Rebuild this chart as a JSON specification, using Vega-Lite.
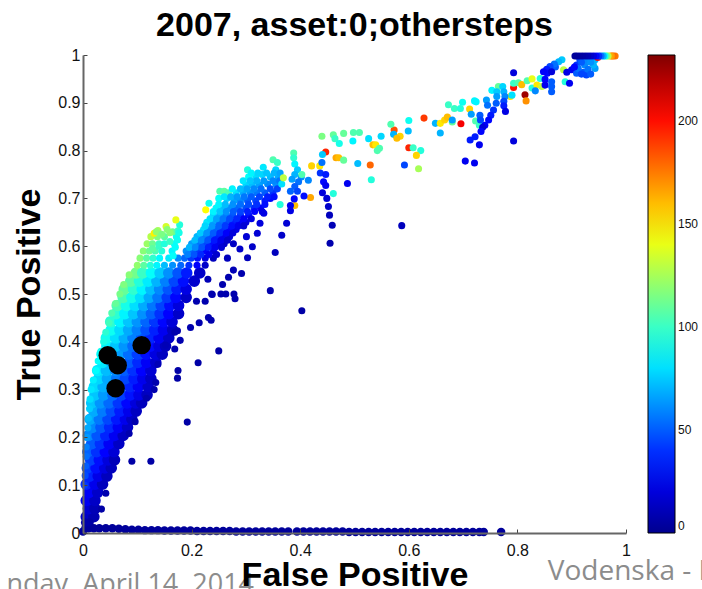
{"$schema":"https://vega.github.io/schema/vega-lite/v6.json","width":543,"height":478,"autosize":{"type":"none"},"padding":{"left":83,"top":55,"right":76,"bottom":56},"background":"white","config":{"view":{"stroke":null},"font":"Liberation Sans"},
"title":{"text":"2007, asset:0;othersteps","font":"Liberation Sans","fontSize":34,"fontWeight":"bold","color":"#000","anchor":"middle","offset":4},
"datasets":{
"core":[
{"x":0.006,"y":0.034,"v":14},{"x":0.02,"y":0.034,"v":9},{"x":0.01,"y":0.051,"v":17},{"x":0.022,"y":0.051,"v":10},{"x":0.006,"y":0.068,"v":25},{"x":0.022,"y":0.068,"v":14},{"x":0.011,"y":0.085,"v":27},{"x":0.027,"y":0.085,"v":15},
{"x":0.006,"y":0.102,"v":37},{"x":0.022,"y":0.102,"v":24},{"x":0.036,"y":0.102,"v":12},{"x":0.012,"y":0.119,"v":37},{"x":0.028,"y":0.119,"v":23},{"x":0.044,"y":0.119,"v":12},
{"x":0.008,"y":0.136,"v":44},{"x":0.024,"y":0.136,"v":32},{"x":0.04,"y":0.136,"v":21},{"x":0.052,"y":0.136,"v":12},{"x":0.014,"y":0.153,"v":44},{"x":0.03,"y":0.153,"v":32},{"x":0.046,"y":0.153,"v":20},{"x":0.058,"y":0.153,"v":11},
{"x":0.009,"y":0.17,"v":51},{"x":0.025,"y":0.17,"v":40},{"x":0.041,"y":0.17,"v":29},{"x":0.057,"y":0.17,"v":18},{"x":0.016,"y":0.187,"v":50},{"x":0.032,"y":0.187,"v":40},{"x":0.048,"y":0.187,"v":27},{"x":0.066,"y":0.187,"v":14},
{"x":0.01,"y":0.204,"v":60},{"x":0.026,"y":0.204,"v":48},{"x":0.042,"y":0.204,"v":37},{"x":0.058,"y":0.204,"v":26},{"x":0.074,"y":0.204,"v":13},
{"x":0.017,"y":0.221,"v":60},{"x":0.033,"y":0.221,"v":49},{"x":0.049,"y":0.221,"v":38},{"x":0.065,"y":0.221,"v":27},{"x":0.082,"y":0.221,"v":15},
{"x":0.013,"y":0.238,"v":68},{"x":0.03,"y":0.238,"v":56},{"x":0.046,"y":0.238,"v":45},{"x":0.062,"y":0.238,"v":34},{"x":0.078,"y":0.238,"v":24},{"x":0.09,"y":0.238,"v":14},
{"x":0.02,"y":0.255,"v":68},{"x":0.036,"y":0.255,"v":57},{"x":0.052,"y":0.255,"v":46},{"x":0.068,"y":0.255,"v":35},{"x":0.084,"y":0.255,"v":24},{"x":0.098,"y":0.255,"v":13},
{"x":0.016,"y":0.272,"v":74},{"x":0.032,"y":0.272,"v":63},{"x":0.048,"y":0.272,"v":53},{"x":0.065,"y":0.272,"v":41},{"x":0.081,"y":0.272,"v":30},{"x":0.097,"y":0.272,"v":20},{"x":0.108,"y":0.272,"v":12},
{"x":0.022,"y":0.289,"v":74},{"x":0.038,"y":0.289,"v":64},{"x":0.055,"y":0.289,"v":53},{"x":0.071,"y":0.289,"v":43},{"x":0.087,"y":0.289,"v":33},{"x":0.103,"y":0.289,"v":23},{"x":0.118,"y":0.289,"v":13},
{"x":0.021,"y":0.306,"v":79},{"x":0.037,"y":0.306,"v":69},{"x":0.054,"y":0.306,"v":57},{"x":0.07,"y":0.306,"v":47},{"x":0.086,"y":0.306,"v":37},{"x":0.102,"y":0.306,"v":27},{"x":0.12,"y":0.306,"v":15},
{"x":0.029,"y":0.323,"v":78},{"x":0.045,"y":0.323,"v":67},{"x":0.062,"y":0.323,"v":56},{"x":0.078,"y":0.323,"v":45},{"x":0.094,"y":0.323,"v":35},{"x":0.11,"y":0.323,"v":24},{"x":0.125,"y":0.323,"v":14},
{"x":0.027,"y":0.34,"v":83},{"x":0.043,"y":0.34,"v":72},{"x":0.06,"y":0.34,"v":61},{"x":0.076,"y":0.34,"v":50},{"x":0.092,"y":0.34,"v":40},{"x":0.108,"y":0.34,"v":29},{"x":0.125,"y":0.34,"v":18},
{"x":0.036,"y":0.357,"v":82},{"x":0.052,"y":0.357,"v":71},{"x":0.068,"y":0.357,"v":60},{"x":0.085,"y":0.357,"v":49},{"x":0.101,"y":0.357,"v":38},{"x":0.117,"y":0.357,"v":27},{"x":0.134,"y":0.357,"v":16},
{"x":0.035,"y":0.374,"v":87},{"x":0.052,"y":0.374,"v":75},{"x":0.068,"y":0.374,"v":65},{"x":0.084,"y":0.374,"v":54},{"x":0.1,"y":0.374,"v":43},{"x":0.116,"y":0.374,"v":32},{"x":0.133,"y":0.374,"v":21},{"x":0.146,"y":0.374,"v":13},
{"x":0.044,"y":0.391,"v":85},{"x":0.06,"y":0.391,"v":74},{"x":0.076,"y":0.391,"v":63},{"x":0.092,"y":0.391,"v":53},{"x":0.108,"y":0.391,"v":42},{"x":0.124,"y":0.391,"v":31},{"x":0.14,"y":0.391,"v":21},{"x":0.152,"y":0.391,"v":12},
{"x":0.043,"y":0.408,"v":91},{"x":0.06,"y":0.408,"v":80},{"x":0.076,"y":0.408,"v":69},{"x":0.092,"y":0.408,"v":58},{"x":0.108,"y":0.408,"v":48},{"x":0.124,"y":0.408,"v":37},{"x":0.14,"y":0.408,"v":26},{"x":0.158,"y":0.408,"v":14},
{"x":0.052,"y":0.425,"v":90},{"x":0.068,"y":0.425,"v":79},{"x":0.084,"y":0.425,"v":68},{"x":0.1,"y":0.425,"v":58},{"x":0.116,"y":0.425,"v":47},{"x":0.132,"y":0.425,"v":36},{"x":0.148,"y":0.425,"v":25},{"x":0.165,"y":0.425,"v":13},
{"x":0.051,"y":0.442,"v":97},{"x":0.068,"y":0.442,"v":85},{"x":0.084,"y":0.442,"v":74},{"x":0.1,"y":0.442,"v":63},{"x":0.116,"y":0.442,"v":52},{"x":0.132,"y":0.442,"v":41},{"x":0.148,"y":0.442,"v":30},{"x":0.164,"y":0.442,"v":19},
{"x":0.061,"y":0.459,"v":97},{"x":0.077,"y":0.459,"v":85},{"x":0.093,"y":0.459,"v":74},{"x":0.11,"y":0.459,"v":62},{"x":0.126,"y":0.459,"v":51},{"x":0.142,"y":0.459,"v":40},{"x":0.158,"y":0.459,"v":29},{"x":0.176,"y":0.459,"v":15},
{"x":0.063,"y":0.476,"v":104},{"x":0.08,"y":0.476,"v":92},{"x":0.096,"y":0.476,"v":80},{"x":0.112,"y":0.476,"v":68},{"x":0.128,"y":0.476,"v":56},{"x":0.144,"y":0.476,"v":44},{"x":0.16,"y":0.476,"v":32},{"x":0.176,"y":0.476,"v":20},
{"x":0.074,"y":0.493,"v":104},{"x":0.09,"y":0.493,"v":92},{"x":0.106,"y":0.493,"v":80},{"x":0.122,"y":0.493,"v":68},{"x":0.138,"y":0.493,"v":56},{"x":0.155,"y":0.493,"v":42},{"x":0.171,"y":0.493,"v":30},{"x":0.19,"y":0.493,"v":15},
{"x":0.076,"y":0.51,"v":110},{"x":0.093,"y":0.51,"v":98},{"x":0.109,"y":0.51,"v":85},{"x":0.125,"y":0.51,"v":72},{"x":0.141,"y":0.51,"v":60},{"x":0.157,"y":0.51,"v":48},{"x":0.173,"y":0.51,"v":35},{"x":0.19,"y":0.51,"v":22},
{"x":0.088,"y":0.527,"v":108},{"x":0.104,"y":0.527,"v":95},{"x":0.12,"y":0.527,"v":83},{"x":0.136,"y":0.527,"v":70},{"x":0.152,"y":0.527,"v":58},{"x":0.168,"y":0.527,"v":45},{"x":0.185,"y":0.527,"v":32},{"x":0.205,"y":0.527,"v":16},
{"x":0.098,"y":0.544,"v":113},{"x":0.11,"y":0.544,"v":100},{"x":0.126,"y":0.544,"v":88},{"x":0.142,"y":0.544,"v":75},{"x":0.158,"y":0.544,"v":62},{"x":0.175,"y":0.544,"v":48},{"x":0.191,"y":0.544,"v":35},{"x":0.215,"y":0.544,"v":15}
],
"strip":[
{"x":0,"y":0.003,"v":3},{"x":0.005,"y":0.012,"v":4},{"x":0.01,"y":0.01,"v":4},{"x":0.012,"y":0.022,"v":6},{"x":0.004,"y":0.022,"v":7},{"x":0.02,"y":0.01,"v":3},{"x":0.03,"y":0.01,"v":3},{"x":0.042,"y":0.01,"v":3},{"x":0.054,"y":0.01,"v":3},{"x":0.066,"y":0.009,"v":3},{"x":0.078,"y":0.008,"v":3},{"x":0.09,"y":0.007,"v":3},{"x":0.102,"y":0.007,"v":3},{"x":0.114,"y":0.006,"v":3},{"x":0.126,"y":0.006,"v":3},{"x":0.138,"y":0.006,"v":3},{"x":0.15,"y":0.005,"v":3},{"x":0.162,"y":0.005,"v":3},{"x":0.174,"y":0.005,"v":3},{"x":0.186,"y":0.005,"v":3},{"x":0.198,"y":0.005,"v":3},{"x":0.21,"y":0.004,"v":3},{"x":0.222,"y":0.004,"v":3},{"x":0.234,"y":0.004,"v":3},{"x":0.246,"y":0.004,"v":3},{"x":0.258,"y":0.004,"v":3},{"x":0.27,"y":0.004,"v":3},{"x":0.282,"y":0.003,"v":3},{"x":0.294,"y":0.003,"v":3},{"x":0.306,"y":0.003,"v":3},{"x":0.318,"y":0.003,"v":3},{"x":0.33,"y":0.003,"v":3},{"x":0.342,"y":0.003,"v":3},{"x":0.354,"y":0.003,"v":3},{"x":0.366,"y":0.003,"v":3},{"x":0.378,"y":0.003,"v":3},{"x":0.394,"y":0.003,"v":3},{"x":0.406,"y":0.003,"v":3},{"x":0.418,"y":0.003,"v":3},{"x":0.43,"y":0.003,"v":3},{"x":0.442,"y":0.003,"v":3},{"x":0.454,"y":0.003,"v":3},{"x":0.466,"y":0.003,"v":3},{"x":0.478,"y":0.003,"v":3},{"x":0.49,"y":0.002,"v":3},{"x":0.502,"y":0.002,"v":3},{"x":0.514,"y":0.002,"v":3},{"x":0.526,"y":0.002,"v":3},{"x":0.538,"y":0.002,"v":3},{"x":0.55,"y":0.002,"v":3},{"x":0.562,"y":0.002,"v":3},{"x":0.574,"y":0.002,"v":3},{"x":0.586,"y":0.002,"v":3},{"x":0.598,"y":0.002,"v":3},{"x":0.61,"y":0.002,"v":3},{"x":0.622,"y":0.002,"v":3},{"x":0.634,"y":0.002,"v":3},{"x":0.646,"y":0.002,"v":3},{"x":0.658,"y":0.002,"v":3},{"x":0.67,"y":0.002,"v":3},{"x":0.682,"y":0.002,"v":3},{"x":0.694,"y":0.002,"v":3},{"x":0.706,"y":0.002,"v":3},{"x":0.718,"y":0.002,"v":3},{"x":0.73,"y":0.002,"v":3},{"x":0.738,"y":0.002,"v":3},{"x":0.77,"y":0.002,"v":3}
],
"dots":[
{"x":0.003,"y":0.1,"v":42},{"x":0.004,"y":0.12,"v":46},{"x":0.005,"y":0.14,"v":50},{"x":0.006,"y":0.16,"v":54},{"x":0.006,"y":0.18,"v":58},{"x":0.007,"y":0.2,"v":64},{"x":0.009,"y":0.22,"v":68},{"x":0.01,"y":0.24,"v":72},{"x":0.012,"y":0.26,"v":76},{"x":0.013,"y":0.28,"v":80},{"x":0.015,"y":0.3,"v":82},{"x":0.019,"y":0.32,"v":84},{"x":0.024,"y":0.34,"v":87},{"x":0.028,"y":0.36,"v":88},{"x":0.033,"y":0.38,"v":90},{"x":0.038,"y":0.4,"v":93},{"x":0.042,"y":0.42,"v":97},{"x":0.048,"y":0.44,"v":102},{"x":0.053,"y":0.46,"v":105},{"x":0.06,"y":0.48,"v":110},{"x":0.068,"y":0.5,"v":114},{"x":0.075,"y":0.52,"v":116},{"x":0.085,"y":0.54,"v":118},
{"x":0.1,"y":0.56,"v":120},{"x":0.112,"y":0.56,"v":108},{"x":0.124,"y":0.56,"v":96},{"x":0.136,"y":0.56,"v":85},{"x":0.15,"y":0.56,"v":72},{"x":0.165,"y":0.56,"v":62},{"x":0.18,"y":0.56,"v":52},{"x":0.195,"y":0.56,"v":40},{"x":0.21,"y":0.56,"v":28},{"x":0.225,"y":0.56,"v":15},
{"x":0.105,"y":0.575,"v":118},{"x":0.117,"y":0.575,"v":108},{"x":0.129,"y":0.575,"v":98},{"x":0.141,"y":0.575,"v":86},{"x":0.158,"y":0.575,"v":82},{"x":0.175,"y":0.575,"v":60},{"x":0.187,"y":0.575,"v":52},{"x":0.199,"y":0.575,"v":42},{"x":0.211,"y":0.575,"v":32},{"x":0.225,"y":0.575,"v":22},{"x":0.24,"y":0.575,"v":12},
{"x":0.111,"y":0.59,"v":118},{"x":0.122,"y":0.59,"v":112},{"x":0.133,"y":0.59,"v":104},{"x":0.145,"y":0.59,"v":95},{"x":0.164,"y":0.59,"v":85},{"x":0.19,"y":0.59,"v":62},{"x":0.202,"y":0.59,"v":52},{"x":0.214,"y":0.59,"v":42},{"x":0.226,"y":0.59,"v":30},{"x":0.24,"y":0.59,"v":20},
{"x":0.118,"y":0.605,"v":122},{"x":0.128,"y":0.605,"v":112},{"x":0.14,"y":0.605,"v":100},{"x":0.168,"y":0.605,"v":88},{"x":0.2,"y":0.605,"v":65},{"x":0.212,"y":0.605,"v":55},{"x":0.224,"y":0.605,"v":45},{"x":0.236,"y":0.605,"v":32},{"x":0.248,"y":0.605,"v":24},{"x":0.26,"y":0.605,"v":15},
{"x":0.125,"y":0.62,"v":128},{"x":0.137,"y":0.62,"v":116},{"x":0.15,"y":0.62,"v":108},{"x":0.172,"y":0.62,"v":90},{"x":0.21,"y":0.62,"v":70},{"x":0.222,"y":0.62,"v":58},{"x":0.234,"y":0.62,"v":48},{"x":0.246,"y":0.62,"v":36},{"x":0.258,"y":0.62,"v":25},{"x":0.27,"y":0.62,"v":18},
{"x":0.131,"y":0.627,"v":148},{"x":0.138,"y":0.633,"v":125},{"x":0.153,"y":0.641,"v":135},{"x":0.165,"y":0.63,"v":112},{"x":0.175,"y":0.632,"v":100},{"x":0.178,"y":0.645,"v":95},{"x":0.16,"y":0.628,"v":118},{"x":0.171,"y":0.655,"v":140},{"x":0.226,"y":0.676,"v":145},
{"x":0.128,"y":0.595,"v":108},{"x":0.14,"y":0.6,"v":100},{"x":0.15,"y":0.605,"v":95},{"x":0.16,"y":0.61,"v":100},{"x":0.135,"y":0.63,"v":120},{"x":0.145,"y":0.625,"v":115},{"x":0.155,"y":0.635,"v":118},{"x":0.166,"y":0.58,"v":88},{"x":0.17,"y":0.598,"v":88},{"x":0.174,"y":0.613,"v":90},{"x":0.177,"y":0.628,"v":92},
{"x":0.222,"y":0.635,"v":80},{"x":0.234,"y":0.635,"v":62},{"x":0.246,"y":0.635,"v":52},{"x":0.258,"y":0.635,"v":40},{"x":0.27,"y":0.635,"v":30},{"x":0.282,"y":0.635,"v":22},
{"x":0.228,"y":0.65,"v":82},{"x":0.24,"y":0.65,"v":68},{"x":0.252,"y":0.65,"v":55},{"x":0.264,"y":0.65,"v":46},{"x":0.276,"y":0.65,"v":36},{"x":0.288,"y":0.65,"v":28},{"x":0.3,"y":0.65,"v":20},
{"x":0.24,"y":0.665,"v":78},{"x":0.252,"y":0.665,"v":68},{"x":0.264,"y":0.665,"v":58},{"x":0.276,"y":0.665,"v":48},{"x":0.29,"y":0.665,"v":40},{"x":0.305,"y":0.665,"v":32},
{"x":0.232,"y":0.69,"v":90},{"x":0.245,"y":0.68,"v":85},{"x":0.258,"y":0.68,"v":72},{"x":0.27,"y":0.68,"v":62},{"x":0.283,"y":0.68,"v":52},{"x":0.3,"y":0.68,"v":46},{"x":0.315,"y":0.68,"v":38},{"x":0.327,"y":0.68,"v":28},
{"x":0.25,"y":0.7,"v":88},{"x":0.265,"y":0.7,"v":76},{"x":0.278,"y":0.695,"v":66},{"x":0.29,"y":0.695,"v":60},{"x":0.303,"y":0.695,"v":50},{"x":0.318,"y":0.695,"v":44},{"x":0.335,"y":0.695,"v":35},{"x":0.345,"y":0.7,"v":30},
{"x":0.252,"y":0.715,"v":105},{"x":0.26,"y":0.715,"v":108},{"x":0.268,"y":0.712,"v":104},{"x":0.282,"y":0.712,"v":80},{"x":0.295,"y":0.712,"v":68},{"x":0.308,"y":0.712,"v":62},{"x":0.32,"y":0.712,"v":56},{"x":0.335,"y":0.712,"v":50},{"x":0.35,"y":0.712,"v":40},
{"x":0.3,"y":0.728,"v":78},{"x":0.312,"y":0.728,"v":72},{"x":0.325,"y":0.728,"v":66},{"x":0.34,"y":0.73,"v":60},{"x":0.355,"y":0.73,"v":62},{"x":0.305,"y":0.745,"v":88},{"x":0.318,"y":0.745,"v":80},{"x":0.33,"y":0.75,"v":78},{"x":0.345,"y":0.745,"v":72},{"x":0.36,"y":0.745,"v":68},{"x":0.303,"y":0.76,"v":95},{"x":0.332,"y":0.765,"v":82},{"x":0.355,"y":0.76,"v":78},{"x":0.35,"y":0.781,"v":105},{"x":0.358,"y":0.775,"v":100},
{"x":0.193,"y":0.5825,"v":58},{"x":0.205,"y":0.5825,"v":48},{"x":0.217,"y":0.5825,"v":38},{"x":0.232,"y":0.5825,"v":26},{"x":0.246,"y":0.5825,"v":16},
{"x":0.196,"y":0.5975,"v":70},{"x":0.207,"y":0.5975,"v":60},{"x":0.219,"y":0.5975,"v":48},{"x":0.231,"y":0.5975,"v":36},{"x":0.243,"y":0.5975,"v":26},{"x":0.255,"y":0.5975,"v":18},
{"x":0.206,"y":0.6125,"v":72},{"x":0.218,"y":0.6125,"v":60},{"x":0.23,"y":0.6125,"v":48},{"x":0.242,"y":0.6125,"v":34},{"x":0.254,"y":0.6125,"v":24},{"x":0.266,"y":0.6125,"v":16},
{"x":0.216,"y":0.6275,"v":75},{"x":0.228,"y":0.6275,"v":62},{"x":0.24,"y":0.6275,"v":50},{"x":0.252,"y":0.6275,"v":38},{"x":0.264,"y":0.6275,"v":28},{"x":0.276,"y":0.6275,"v":20},
{"x":0.225,"y":0.6425,"v":78},{"x":0.238,"y":0.6425,"v":64},{"x":0.25,"y":0.6425,"v":52},{"x":0.262,"y":0.6425,"v":42},{"x":0.274,"y":0.6425,"v":32},{"x":0.286,"y":0.6425,"v":25},{"x":0.296,"y":0.6425,"v":18},
{"x":0.234,"y":0.6575,"v":80},{"x":0.246,"y":0.6575,"v":66},{"x":0.258,"y":0.6575,"v":56},{"x":0.27,"y":0.6575,"v":46},{"x":0.283,"y":0.6575,"v":38},{"x":0.296,"y":0.6575,"v":28},{"x":0.31,"y":0.6575,"v":22},
{"x":0.24,"y":0.6725,"v":85},{"x":0.252,"y":0.6725,"v":74},{"x":0.264,"y":0.6725,"v":62},{"x":0.277,"y":0.6725,"v":50},{"x":0.29,"y":0.6725,"v":44},{"x":0.303,"y":0.6725,"v":36},{"x":0.316,"y":0.6725,"v":30},{"x":0.33,"y":0.6725,"v":22},
{"x":0.25,"y":0.6875,"v":85},{"x":0.262,"y":0.6875,"v":72},{"x":0.276,"y":0.6875,"v":62},{"x":0.29,"y":0.6875,"v":54},{"x":0.305,"y":0.6875,"v":46},{"x":0.32,"y":0.6875,"v":40},{"x":0.335,"y":0.6875,"v":32},
{"x":0.26,"y":0.7035,"v":82},{"x":0.272,"y":0.7035,"v":70},{"x":0.284,"y":0.7035,"v":64},{"x":0.297,"y":0.7035,"v":56},{"x":0.31,"y":0.7035,"v":50},{"x":0.325,"y":0.7035,"v":44},{"x":0.34,"y":0.7035,"v":36},{"x":0.352,"y":0.7035,"v":32},
{"x":0.275,"y":0.72,"v":85},{"x":0.29,"y":0.72,"v":72},{"x":0.302,"y":0.72,"v":66},{"x":0.315,"y":0.72,"v":60},{"x":0.328,"y":0.72,"v":54},{"x":0.345,"y":0.72,"v":46},{"x":0.358,"y":0.72,"v":44},
{"x":0.295,"y":0.737,"v":82},{"x":0.308,"y":0.737,"v":75},{"x":0.32,"y":0.737,"v":70},{"x":0.333,"y":0.737,"v":64},{"x":0.35,"y":0.737,"v":60},{"x":0.362,"y":0.737,"v":56},
{"x":0.31,"y":0.753,"v":85},{"x":0.322,"y":0.753,"v":78},{"x":0.338,"y":0.753,"v":74},{"x":0.352,"y":0.753,"v":70},{"x":0.363,"y":0.753,"v":66},
{"x":0.388,"y":0.795,"v":105},{"x":0.388,"y":0.785,"v":98},{"x":0.39,"y":0.772,"v":85},{"x":0.395,"y":0.76,"v":75},{"x":0.39,"y":0.75,"v":70},{"x":0.402,"y":0.745,"v":62},{"x":0.385,"y":0.74,"v":65},{"x":0.397,"y":0.735,"v":55},{"x":0.39,"y":0.725,"v":50},{"x":0.382,"y":0.715,"v":52},{"x":0.395,"y":0.715,"v":45},
{"x":0.419,"y":0.702,"v":165},{"x":0.39,"y":0.685,"v":160},{"x":0.421,"y":0.768,"v":155},{"x":0.436,"y":0.768,"v":150},{"x":0.447,"y":0.797,"v":195},{"x":0.44,"y":0.83,"v":115},{"x":0.461,"y":0.833,"v":110},{"x":0.48,"y":0.836,"v":110},{"x":0.498,"y":0.838,"v":105},{"x":0.509,"y":0.838,"v":105},{"x":0.464,"y":0.825,"v":100},{"x":0.472,"y":0.815,"v":92},{"x":0.497,"y":0.82,"v":85},{"x":0.466,"y":0.785,"v":165},{"x":0.471,"y":0.785,"v":160},{"x":0.48,"y":0.78,"v":110},{"x":0.506,"y":0.773,"v":72},{"x":0.461,"y":0.71,"v":95},{"x":0.363,"y":0.687,"v":95},{"x":0.366,"y":0.73,"v":80},{"x":0.403,"y":0.75,"v":105},{"x":0.369,"y":0.743,"v":130},{"x":0.415,"y":0.738,"v":60},
{"x":0.526,"y":0.825,"v":80},{"x":0.549,"y":0.83,"v":78},{"x":0.573,"y":0.843,"v":185},{"x":0.572,"y":0.834,"v":70},{"x":0.584,"y":0.83,"v":155},{"x":0.578,"y":0.826,"v":160},{"x":0.567,"y":0.855,"v":105},{"x":0.6,"y":0.863,"v":90},{"x":0.628,"y":0.868,"v":190},{"x":0.599,"y":0.841,"v":72},{"x":0.658,"y":0.837,"v":70},{"x":0.649,"y":0.857,"v":70},{"x":0.658,"y":0.857,"v":150},{"x":0.666,"y":0.864,"v":155},{"x":0.671,"y":0.87,"v":160},{"x":0.68,"y":0.86,"v":110},{"x":0.68,"y":0.864,"v":65},{"x":0.696,"y":0.856,"v":205},{"x":0.673,"y":0.896,"v":100},{"x":0.684,"y":0.888,"v":100},{"x":0.695,"y":0.888,"v":95},{"x":0.699,"y":0.901,"v":90},{"x":0.721,"y":0.904,"v":85},{"x":0.724,"y":0.902,"v":85},{"x":0.712,"y":0.887,"v":155},{"x":0.715,"y":0.876,"v":65},{"x":0.723,"y":0.862,"v":105},{"x":0.73,"y":0.853,"v":100},{"x":0.534,"y":0.812,"v":160},{"x":0.539,"y":0.812,"v":150},{"x":0.546,"y":0.805,"v":105},{"x":0.542,"y":0.8,"v":105},{"x":0.6,"y":0.806,"v":195},{"x":0.608,"y":0.806,"v":100},{"x":0.622,"y":0.8,"v":95},{"x":0.614,"y":0.79,"v":155},{"x":0.618,"y":0.762,"v":125},{"x":0.592,"y":0.77,"v":45},{"x":0.529,"y":0.77,"v":180},{"x":0.531,"y":0.739,"v":95},
{"x":0.814,"y":0.917,"v":225},{"x":0.816,"y":0.904,"v":170},{"x":0.793,"y":0.932,"v":200},{"x":0.787,"y":0.913,"v":150},{"x":0.765,"y":0.934,"v":110},{"x":0.793,"y":0.941,"v":100},{"x":0.802,"y":0.942,"v":105},{"x":0.808,"y":0.938,"v":160},{"x":0.818,"y":0.946,"v":105},{"x":0.827,"y":0.95,"v":140},{"x":0.827,"y":0.931,"v":95},{"x":0.836,"y":0.937,"v":150},{"x":0.842,"y":0.951,"v":95},{"x":0.845,"y":0.934,"v":130},{"x":0.79,"y":0.916,"v":80},{"x":0.833,"y":0.925,"v":60},{"x":0.885,"y":0.969,"v":130},{"x":0.888,"y":0.944,"v":95},
{"x":0.753,"y":0.926,"v":85},{"x":0.762,"y":0.923,"v":75},{"x":0.762,"y":0.913,"v":65},{"x":0.761,"y":0.899,"v":50},{"x":0.756,"y":0.885,"v":40},{"x":0.751,"y":0.874,"v":35},{"x":0.747,"y":0.864,"v":30},{"x":0.74,"y":0.853,"v":28},{"x":0.743,"y":0.906,"v":65},{"x":0.745,"y":0.895,"v":55},{"x":0.731,"y":0.874,"v":50},{"x":0.732,"y":0.864,"v":45},{"x":0.736,"y":0.849,"v":20},
{"x":0.773,"y":0.934,"v":78},{"x":0.775,"y":0.923,"v":70},{"x":0.777,"y":0.913,"v":60},{"x":0.775,"y":0.903,"v":45},{"x":0.775,"y":0.894,"v":35},{"x":0.778,"y":0.882,"v":22},
{"x":0.882,"y":0.99,"v":75},{"x":0.876,"y":0.986,"v":70},{"x":0.87,"y":0.975,"v":50},{"x":0.868,"y":0.981,"v":55},{"x":0.86,"y":0.976,"v":45},{"x":0.854,"y":0.97,"v":35},{"x":0.855,"y":0.962,"v":30},{"x":0.848,"y":0.965,"v":28},{"x":0.863,"y":0.965,"v":20},{"x":0.851,"y":0.949,"v":30},{"x":0.851,"y":0.937,"v":25},{"x":0.863,"y":0.944,"v":50},{"x":0.863,"y":0.934,"v":50},{"x":0.863,"y":0.923,"v":50},
{"x":0.896,"y":0.941,"v":25},{"x":0.891,"y":0.964,"v":22},{"x":0.9,"y":0.969,"v":25},{"x":0.909,"y":0.979,"v":40},{"x":0.915,"y":0.99,"v":45},{"x":0.921,"y":0.964,"v":50},{"x":0.909,"y":0.962,"v":50},{"x":0.912,"y":0.972,"v":55},{"x":0.927,"y":0.99,"v":60},{"x":0.924,"y":0.979,"v":60},{"x":0.927,"y":0.958,"v":45},{"x":0.943,"y":0.99,"v":70},{"x":0.943,"y":0.972,"v":65},{"x":0.94,"y":0.979,"v":70},{"x":0.948,"y":0.995,"v":200},{"x":0.905,"y":0.975,"v":30},{"x":0.918,"y":0.985,"v":50},{"x":0.935,"y":0.985,"v":62},{"x":0.93,"y":0.97,"v":55},{"x":0.918,"y":0.96,"v":45},{"x":0.935,"y":0.96,"v":50},
{"x":0.98,"y":0.998,"v":175},{"x":0.976,"y":0.998,"v":180},{"x":0.974,"y":0.998,"v":170},{"x":0.971,"y":0.998,"v":165},{"x":0.967,"y":0.998,"v":130},{"x":0.964,"y":0.998,"v":110},{"x":0.961,"y":0.998,"v":90},{"x":0.958,"y":0.998,"v":70},{"x":0.954,"y":0.998,"v":55},{"x":0.95,"y":0.998,"v":40},{"x":0.945,"y":0.998,"v":30},{"x":0.94,"y":0.998,"v":20},{"x":0.935,"y":0.998,"v":15},{"x":0.93,"y":0.998,"v":10},{"x":0.925,"y":0.998,"v":8},{"x":0.92,"y":0.998,"v":6},{"x":0.915,"y":0.998,"v":5},{"x":0.91,"y":0.998,"v":4},{"x":0.906,"y":0.998,"v":3},
{"x":0.793,"y":0.963,"v":20},{"x":0.793,"y":0.82,"v":20},{"x":0.733,"y":0.84,"v":30},{"x":0.722,"y":0.829,"v":35},{"x":0.713,"y":0.822,"v":35},{"x":0.73,"y":0.812,"v":25},{"x":0.704,"y":0.778,"v":25},{"x":0.721,"y":0.774,"v":25},{"x":0.587,"y":0.643,"v":12},
{"x":0.441,"y":0.792,"v":75},{"x":0.44,"y":0.775,"v":55},{"x":0.437,"y":0.753,"v":40},{"x":0.447,"y":0.75,"v":35},{"x":0.443,"y":0.735,"v":30},{"x":0.447,"y":0.727,"v":25},{"x":0.441,"y":0.712,"v":20},{"x":0.449,"y":0.7,"v":18},{"x":0.452,"y":0.683,"v":15},{"x":0.454,"y":0.665,"v":12},{"x":0.459,"y":0.644,"v":10},{"x":0.455,"y":0.606,"v":8},{"x":0.487,"y":0.731,"v":25},
{"x":0.354,"y":0.587,"v":12},{"x":0.366,"y":0.623,"v":15},{"x":0.375,"y":0.648,"v":18},{"x":0.382,"y":0.674,"v":22},{"x":0.382,"y":0.685,"v":25},{"x":0.389,"y":0.699,"v":30},{"x":0.407,"y":0.705,"v":32},
{"x":0.303,"y":0.576,"v":12},{"x":0.312,"y":0.599,"v":15},{"x":0.321,"y":0.627,"v":18},{"x":0.333,"y":0.669,"v":22},{"x":0.292,"y":0.543,"v":8},{"x":0.268,"y":0.535,"v":8},{"x":0.257,"y":0.52,"v":8},{"x":0.23,"y":0.531,"v":10},{"x":0.237,"y":0.5,"v":8},{"x":0.277,"y":0.55,"v":10},{"x":0.266,"y":0.575,"v":12},{"x":0.289,"y":0.594,"v":15},{"x":0.277,"y":0.605,"v":14},{"x":0.301,"y":0.62,"v":18},{"x":0.326,"y":0.648,"v":20},{"x":0.345,"y":0.507,"v":8},
{"x":0.403,"y":0.465,"v":6},{"x":0.25,"y":0.381,"v":6},{"x":0.212,"y":0.356,"v":6},{"x":0.175,"y":0.34,"v":6},{"x":0.174,"y":0.324,"v":6},{"x":0.192,"y":0.232,"v":6},{"x":0.09,"y":0.15,"v":6},{"x":0.125,"y":0.15,"v":6},{"x":0.034,"y":0.05,"v":6},{"x":0.042,"y":0.083,"v":8},{"x":0.096,"y":0.233,"v":8},{"x":0.085,"y":0.208,"v":8},{"x":0.131,"y":0.3,"v":8},{"x":0.134,"y":0.315,"v":8},{"x":0.117,"y":0.282,"v":8},{"x":0.179,"y":0.403,"v":8},{"x":0.169,"y":0.385,"v":8},{"x":0.198,"y":0.43,"v":8},{"x":0.214,"y":0.44,"v":8},{"x":0.231,"y":0.451,"v":8},{"x":0.236,"y":0.445,"v":8},{"x":0.209,"y":0.485,"v":8},{"x":0.225,"y":0.485,"v":8},{"x":0.238,"y":0.499,"v":8},{"x":0.254,"y":0.5,"v":8},{"x":0.263,"y":0.5,"v":8},{"x":0.278,"y":0.5,"v":8},{"x":0.28,"y":0.49,"v":8},{"x":0.169,"y":0.42,"v":8},{"x":0.174,"y":0.423,"v":8},{"x":0.152,"y":0.393,"v":10},{"x":0.138,"y":0.353,"v":10}
]},
"layer":[
{"data":{"name":"core"},"mark":{"type":"circle","size":135,"opacity":1},"encoding":{
"x":{"field":"x","type":"quantitative","scale":{"domain":[0,1],"nice":false},"axis":{"title":"False Positive","titleFont":"Liberation Sans","titleFontSize":34,"titleFontWeight":"bold","titleColor":"#000","titlePadding":0,"values":[0,0.2,0.4,0.6,0.8,1],"labelExpr":"''+datum.value","labelFontSize":16,"labelColor":"#111","labelPadding":13,"labelFlush":false,"labelOverlap":false,"grid":false,"domainColor":"#666","domainWidth":2,"tickColor":"#444","tickSize":-4,"tickWidth":1,"zindex":1}},
"y":{"field":"y","type":"quantitative","scale":{"domain":[0,1],"nice":false},"axis":{"title":"True Positive","titleFont":"Liberation Sans","titleFontSize":34,"titleFontWeight":"bold","titleColor":"#000","titlePadding":11,"values":[0,0.1,0.2,0.3,0.4,0.5,0.6,0.7,0.8,0.9,1],"labelExpr":"''+datum.value","labelFontSize":16,"labelColor":"#111","labelPadding":7,"labelFlush":false,"labelOverlap":false,"grid":false,"domainColor":"#666","domainWidth":2,"tickColor":"#444","tickSize":-4,"tickWidth":1,"zindex":1}},
"color":{"field":"v","type":"quantitative","scale":{"domain":[0,29,87,145,203,232],"range":["#00008f","#0000ff","#00ffff","#ffff00","#ff0000","#800000"],"interpolate":"rgb"},"legend":{"title":null,"orient":"none","legendX":565,"legendY":0,"direction":"vertical","gradientLength":478,"gradientThickness":27,"gradientStrokeColor":"#000","gradientStrokeWidth":1,"values":[0,50,100,150,200],"labelFontSize":12,"labelColor":"#111","labelFont":"Liberation Sans","labelOverlap":false,"labelOffset":3,"encode":{"labels":{"update":{"dy":{"signal":"datum.value===0?9:2"}}}}}}}},
{"data":{"name":"strip"},"mark":{"type":"circle","size":72,"opacity":1},"encoding":{"x":{"field":"x","type":"quantitative"},"y":{"field":"y","type":"quantitative"},"color":{"field":"v","type":"quantitative"}}},
{"data":{"name":"dots"},"mark":{"type":"circle","size":50,"opacity":1},"encoding":{"x":{"field":"x","type":"quantitative"},"y":{"field":"y","type":"quantitative"},"color":{"field":"v","type":"quantitative"}}},
{"data":{"values":[{"x":0.0455,"y":0.372},{"x":0.064,"y":0.351},{"x":0.06,"y":0.303},{"x":0.108,"y":0.393}]},"mark":{"type":"circle","size":340,"opacity":1,"color":"#000"},"encoding":{"x":{"field":"x","type":"quantitative"},"y":{"field":"y","type":"quantitative"}}},
{"data":{"values":[{"x":1.0405,"x2":1.0475,"y":0.2155},{"x":1.083,"x2":1.0902,"y":0.2155},{"x":1.0405,"x2":1.0475,"y":0.431},{"x":1.083,"x2":1.0902,"y":0.431},{"x":1.0405,"x2":1.0475,"y":0.6466},{"x":1.083,"x2":1.0902,"y":0.6466},{"x":1.0405,"x2":1.0475,"y":0.862},{"x":1.083,"x2":1.0902,"y":0.862}]},"mark":{"type":"rule","color":"#000","strokeWidth":1,"clip":false},"encoding":{"x":{"field":"x","type":"quantitative"},"x2":{"field":"x2"},"y":{"field":"y","type":"quantitative"}}},
{"data":{"values":[{"x":0.856,"y":-0.082,"t":"Vodenska - B"}]},"mark":{"type":"text","align":"left","baseline":"middle","font":"Open Sans","fontSize":28,"color":"#8c8c8c"},"encoding":{"x":{"field":"x","type":"quantitative"},"y":{"field":"y","type":"quantitative"},"text":{"field":"t"}}},
{"data":{"values":[{"x":0.315,"y":-0.108,"t":"nday, April 14, 2014"}]},"mark":{"type":"text","align":"right","baseline":"middle","font":"Open Sans","fontSize":27,"color":"#8c8c8c"},"encoding":{"x":{"field":"x","type":"quantitative"},"y":{"field":"y","type":"quantitative"},"text":{"field":"t"}}}
]}
